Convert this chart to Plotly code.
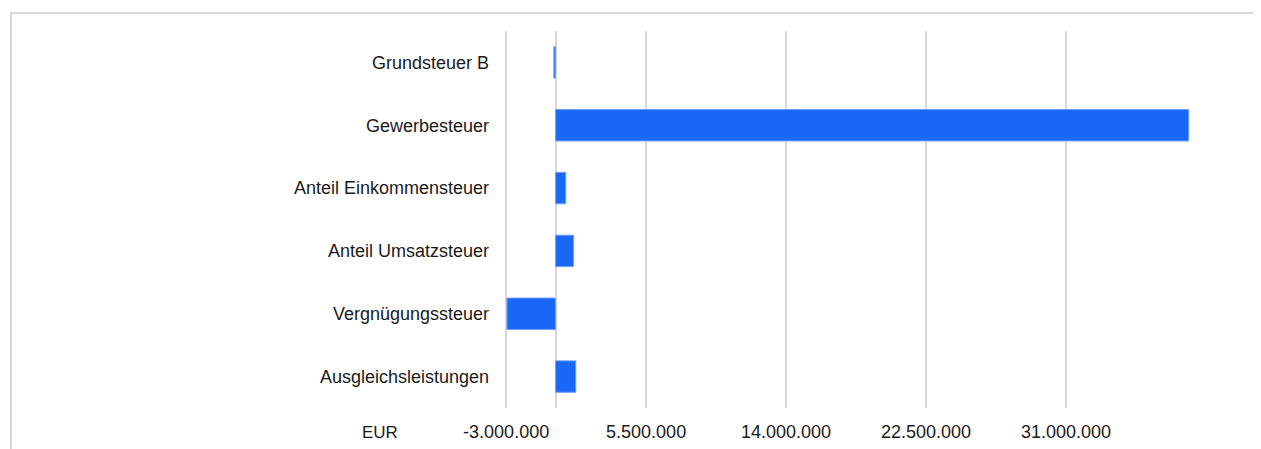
"""Steuererträge - Veränderung (horizontal bar chart)."""
import plotly.graph_objects as go

categories = [
    "Grundsteuer B",
    "Gewerbesteuer",
    "Anteil Einkommensteuer",
    "Anteil Umsatzsteuer",
    "Vergnügungssteuer",
    "Ausgleichsleistungen",
]
values = [-100000, 38450000, 620000, 1100000, -2950000, 1230000]

tick_values = [-3000000, 5500000, 14000000, 22500000, 31000000]
tick_labels = ["-3.000.000", "5.500.000", "14.000.000", "22.500.000", "31.000.000"]
unit_label = "EUR"

font_family = "Liberation Sans, Arial, sans-serif"
grid_color = "#d9d9d9"
text_color = "#1a1a1a"

# page has an 8px body margin, so the figure is sized/offset to fit the window
W, H = 1253, 441
L, R, T, B = 494, 71, 23, 41
pw, ph = W - L - R, H - T - B

fig = go.Figure()
fig.add_trace(go.Bar(
    y=categories,
    x=values,
    orientation="h",
    marker=dict(color="#1a68f6", line=dict(color="#6f9eff", width=1)),
    hoverinfo="x+y",
))

# light frame around the chart
fig.add_shape(
    type="rect", xref="paper", yref="paper",
    x0=(3 - L) / pw, x1=(1250 - L) / pw,
    y0=-0.3, y1=1 + (T - 5) / ph,
    line=dict(color=grid_color, width=2), fillcolor="rgba(0,0,0,0)",
    layer="below",
)

fig.add_annotation(
    text=unit_label, xref="paper", yref="paper",
    x=(372 - L) / pw, y=-(424 - (H - B)) / ph,
    showarrow=False, xanchor="center", yanchor="middle",
    font=dict(size=17, color=text_color, family=font_family),
)

fig.update_xaxes(
    range=[-3250000, 38530000],
    tickvals=tick_values,
    ticktext=tick_labels,
    showgrid=True, gridcolor=grid_color, gridwidth=2,
    zeroline=True, zerolinecolor=grid_color, zerolinewidth=2,
    showline=False,
    ticks="", ticklabelstandoff=11,
    tickfont=dict(size=18, color=text_color, family=font_family),
)
fig.update_yaxes(
    autorange="reversed",
    showgrid=False, showline=False, zeroline=False,
    ticks="", ticklabelstandoff=12,
    tickfont=dict(size=18, color=text_color, family=font_family),
)

fig.update_layout(
    width=W, height=H,
    margin=dict(l=L, r=R, t=T, b=B, autoexpand=False),
    bargap=0.5,
    plot_bgcolor="white",
    paper_bgcolor="white",
    showlegend=False,
    font=dict(family=font_family),
)

fig.write_html("out.html")
